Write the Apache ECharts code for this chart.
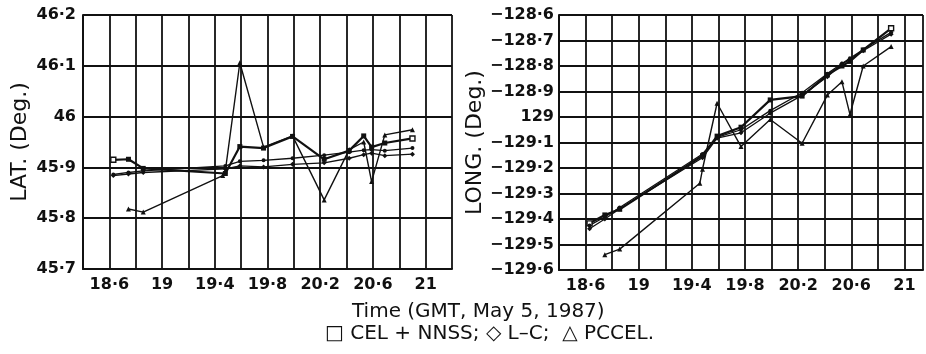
<!DOCTYPE html>
<html>
<head>
<meta charset="utf-8">
<script src="https://cdn.jsdelivr.net/npm/echarts@6/dist/echarts.min.js"></script>
<style>
  html, body { margin: 0; padding: 0; background: #fff; }
  #chart { width: 926px; height: 354px; }
</style>
</head>
<body>
<div id="chart"></div>
<script>
// ---- Data ----
const times = [18.63, 18.745, 18.857, 19.48, 19.59, 19.77, 19.99, 20.23, 20.42, 20.53, 20.59, 20.69, 20.90];
const pcTimes = [18.745, 18.857, 19.46, 19.48, 19.59, 19.77, 19.99, 20.23, 20.42, 20.53, 20.59, 20.69, 20.90];

// Latitude (deg.)
const latCel = [45.915, 45.916, 45.898, 45.888, 45.941, 45.938, 45.961, 45.916, 45.933, 45.962, 45.940, 45.948, 45.957];
const latLc  = [45.884, 45.887, 45.890, 45.897, 45.903, 45.901, 45.906, 45.909, 45.918, 45.925, 45.928, 45.923, 45.926];
const latRef = [45.886, 45.890, 45.893, 45.903, 45.912, 45.914, 45.918, 45.924, 45.930, 45.934, 45.935, 45.933, 45.938];
const latPc  = [45.818, 45.812, 45.884, 45.893, 46.106, 45.940, 45.962, 45.836, 45.935, 45.950, 45.872, 45.964, 45.974];

// Longitude (deg.)
const lonCel = [-129.417, -129.384, -129.362, -129.152, -129.075, -129.040, -128.933, -128.918, -128.835, -128.800, -128.782, -128.737, -128.652];
const lonLc  = [-129.438, -129.400, -129.360, -129.160, -129.083, -129.062, -128.985, -128.915, -128.842, -128.792, -128.775, -128.740, -128.675];
const lonRef = [-129.425, -129.392, -129.355, -129.145, -129.080, -129.050, -128.975, -128.905, -128.830, -128.790, -128.770, -128.735, -128.668];
const lonPc  = [-129.540, -129.518, -129.260, -129.205, -128.946, -129.116, -129.010, -129.103, -128.914, -128.862, -128.990, -128.800, -128.724];

// Tick labels
const xTickValues = [18.6, 19.0, 19.4, 19.8, 20.2, 20.6, 21.0];
const xTickLabels = ['18·6', '19', '19·4', '19·8', '20·2', '20·6', '21'];
const latTickValues = [45.7, 45.8, 45.9, 46.0, 46.1, 46.2];
const latTickLabels = ['45·7', '45·8', '45·9', '46', '46·1', '46·2'];
const lonTickValues = [-129.6, -129.5, -129.4, -129.3, -129.2, -129.1, -129.0, -128.9, -128.8, -128.7, -128.6];
const lonTickLabels = ['−129·6', '−129·5', '−129·4', '−129·3', '−129·2', '−129·1', '129', '−128·9', '−128·8', '−128·7', '−128·6'];

const xTitle = 'Time (GMT, May 5, 1987)';
const keyText = '□ CEL + NNSS; ◇ L–C;  △ PCCEL.';
const latName = 'LAT. (Deg.)';
const lonName = 'LONG. (Deg.)';

// ---- Helpers ----
function lookup(values, labels, v) {
  for (let i = 0; i < values.length; i++) {
    if (Math.abs(values[i] - v) < 1e-6) return labels[i];
  }
  return '';
}
const INK = '#111';
const tickFont = { fontFamily: 'DejaVu Sans', fontWeight: 'bold', fontSize: 16, color: INK };

function xAxisDef(gridIndex, max) {
  return {
    type: 'value', gridIndex: gridIndex, min: 18.4, max: max, interval: 0.2,
    axisLine: { show: true, onZero: false, lineStyle: { color: INK, width: 2 } },
    axisTick: { show: false },
    splitLine: { show: true, lineStyle: { color: INK, width: 1.8 } },
    axisLabel: Object.assign({ margin: 8, formatter: v => lookup(xTickValues, xTickLabels, Math.round(v * 10) / 10),
      showMinLabel: true, showMaxLabel: true, hideOverlap: false }, tickFont)
  };
}
function yAxisDef(gridIndex, min, max, vals, labs, name, gap, margin) {
  return {
    type: 'value', gridIndex: gridIndex, min: min, max: max, interval: 0.1,
    name: name, nameLocation: 'middle', nameGap: gap, nameRotate: 90,
    nameTextStyle: { fontFamily: 'DejaVu Sans', fontSize: 22, color: INK },
    axisLine: { show: true, onZero: false, lineStyle: { color: INK, width: 2 } },
    axisTick: { show: false },
    splitLine: { show: true, lineStyle: { color: INK, width: 1.8 } },
    axisLabel: Object.assign({ margin: margin, formatter: v => lookup(vals, labs, Math.round(v * 10) / 10) }, tickFont)
  };
}
function pts(ts, vs, openEnds) {
  return ts.map((t, i) => {
    const item = { value: [t, vs[i]] };
    if (openEnds && (i === 0 || i === ts.length - 1)) {
      item.itemStyle = { color: '#fff', borderColor: INK, borderWidth: 1.4 };
    }
    return item;
  });
}
function line(name, ts, vs, idx, symbol, size, width, openEnds) {
  return {
    name: name, type: 'line', xAxisIndex: idx, yAxisIndex: idx,
    data: pts(ts, vs, openEnds), symbol: symbol, symbolSize: size, showSymbol: true,
    lineStyle: { color: INK, width: width },
    itemStyle: { color: INK, borderColor: INK, borderWidth: 0 },
    z: 5
  };
}

const chart = echarts.init(document.getElementById('chart'), null, { renderer: 'canvas' });
chart.setOption({
  animation: false,
  backgroundColor: '#fff',
  grid: [
    { left: 83, top: 15, width: 369, height: 254 },
    { left: 559, top: 15, width: 366, height: 255 }
  ],
  xAxis: [xAxisDef(0, 21.2), xAxisDef(1, 21.14)],
  yAxis: [
    yAxisDef(0, 45.7, 46.2, latTickValues, latTickLabels, latName, 52, 7),
    yAxisDef(1, -129.6, -128.6, lonTickValues, lonTickLabels, lonName, 70, 5)
  ],
  graphic: [
    { type: 'text', left: 'center', x: 0, top: 300, style: { text: xTitle, font: '20px "DejaVu Sans"', fill: INK },
      left: 352, top: 302 },
    { type: 'text', left: 325, top: 324, style: { text: keyText, font: '20px "DejaVu Sans"', fill: INK } }
  ],
  series: [
    line('CEL + NNSS', times, latCel, 0, 'rect', 5, 2.2, true),
    line('L–C', times, latLc, 0, 'diamond', 5, 1.3, false),
    line('', times, latRef, 0, 'circle', 4, 1.3, false),
    line('PCCEL', pcTimes, latPc, 0, 'triangle', 5, 1.4, false),
    line('CEL + NNSS', times, lonCel, 1, 'rect', 5, 2.2, true),
    line('L–C', times, lonLc, 1, 'diamond', 5, 1.3, false),
    line('', times, lonRef, 1, 'circle', 4, 1.3, false),
    line('PCCEL', pcTimes, lonPc, 1, 'triangle', 5, 1.4, false)
  ]
});
</script>
</body>
</html>
